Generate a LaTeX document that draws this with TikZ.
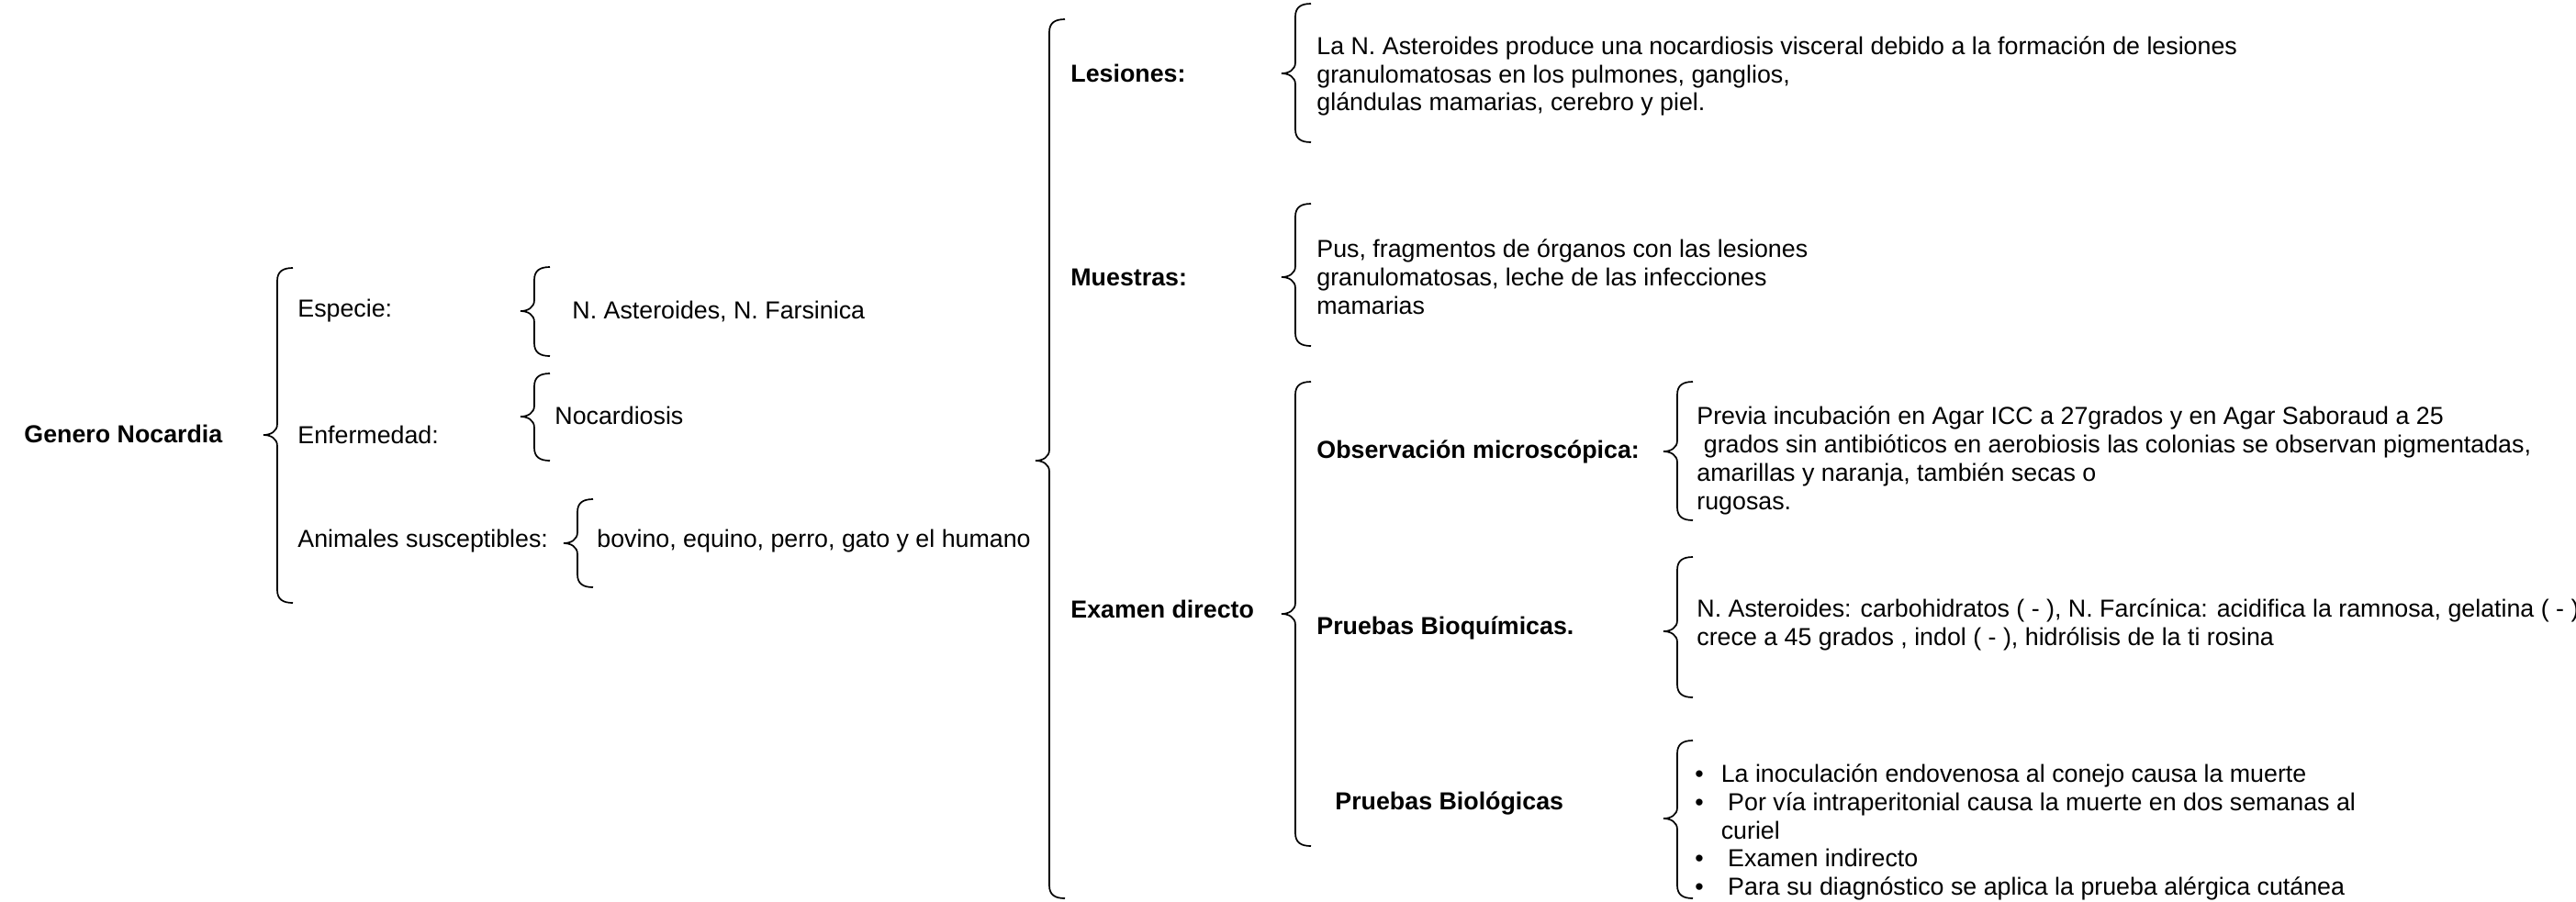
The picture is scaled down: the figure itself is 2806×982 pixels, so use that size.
\documentclass[tikz,border=0pt]{standalone}
\usepackage{fontspec}
\setmainfont{Liberation Sans}
\tikzset{
 txt/.style={anchor=west, inner sep=0pt, align=left, font=\fontsize{13.4}{15.4}\selectfont},
 btxt/.style={txt, font=\fontsize{13.4}{15.4}\selectfont\bfseries},
 brc/.style={draw=black, line width=0.85pt},
}
\newcommand\wbrace[4]{% tipx, top, tipy, bottom
 \draw[brc] ({#1+32},#2) .. controls ({#1+21},#2) and ({#1+15},{#2+4}) .. ({#1+15},{#2+14})
   -- ({#1+15},{#3-12}) .. controls ({#1+15},{#3-4}) and ({#1+8},#3) .. (#1,#3)
   .. controls ({#1+8},#3) and ({#1+15},{#3+4}) .. ({#1+15},{#3+12})
   -- ({#1+15},{#4-14}) .. controls ({#1+15},{#4-4}) and ({#1+21},#4) .. ({#1+32},#4);}
\begin{document}
\begin{tikzpicture}[x=0.5pt,y=-0.5pt]
\useasboundingbox (0,0) rectangle (2806,982);
% braces
\wbrace{287}{292}{474}{657}
\wbrace{567}{291}{339}{388}
\wbrace{567}{407}{454}{502}
\wbrace{614}{544}{592}{640}
\wbrace{1128}{21}{502}{979}
\wbrace{1396}{4}{80}{155}
\wbrace{1396}{222}{302}{377}
\wbrace{1396}{416}{669}{922}
\wbrace{1812}{416}{492}{567}
\wbrace{1812}{607}{688}{760}
\wbrace{1812}{807}{892}{979}
% level 1
\node[btxt] (gn) at (26,473) {Genero Nocardia};
\node[txt] (esp) at (324,339) {Especie:};
\node[txt] (enf) at (324,474) {Enfermedad:};
\node[txt] (ani) at (324,590) {Animales susceptibles:};
\node[txt] (nast) at (623,339) {N. Asteroides, N. Farsinica};
\node[txt] (noc) at (604,453) {Nocardiosis};
\node[txt] (bov) at (650,590) {bovino, equino, perro, gato y el humano};
% level 2
\node[btxt] (les) at (1166,80) {Lesiones:};
\node[btxt] (mue) at (1166,302) {Muestras:};
\node[btxt] (exd) at (1166,664) {Examen directo};
\node[txt] (lestxt) at (1434,83) {La N. Asteroides produce una nocardiosis visceral debido a la formación de lesiones\\granulomatosas en los pulmones, ganglios,\\glándulas mamarias, cerebro y piel.};
\node[txt] (mutxt) at (1434,302) {Pus, fragmentos de órganos con las lesiones\\granulomatosas, leche de las infecciones\\mamarias};
\node[btxt] (obs) at (1434,492) {Observación microscópica:};
\node[btxt] (bioq) at (1434,684) {Pruebas Bioquímicas.};
\node[btxt] (biol) at (1454,875) {Pruebas Biológicas};
\node[txt] (obstxt) at (1848,502) {Previa incubación en Agar ICC a 27grados y en Agar Saboraud a 25\\\hspace*{0.278em}grados sin antibióticos en aerobiosis las colonias se observan pigmentadas,\\amarillas y naranja, también secas o\\rugosas.};
\node[txt] (bioqtxt) at (1848,681) {N. Asteroides: carbohidratos ( - ), N. Farcínica: acidifica la ramnosa, gelatina ( - )\\crece a 45 grados , indol ( - ), hidrólisis de la ti rosina};
\node[txt] (bioltxt) at (1846,908) {\begin{tabular}{@{}l@{\hspace{9.5pt}}l@{}}
\textbullet & La inoculación endovenosa al conejo causa la muerte\\
\textbullet & \hspace*{0.278em}Por vía intraperitonial causa la muerte en dos semanas al\\
 & curiel\\
\textbullet & \hspace*{0.278em}Examen indirecto\\
\textbullet & \hspace*{0.278em}Para su diagnóstico se aplica la prueba alérgica cutánea
\end{tabular}};
\end{tikzpicture}
\end{document}
